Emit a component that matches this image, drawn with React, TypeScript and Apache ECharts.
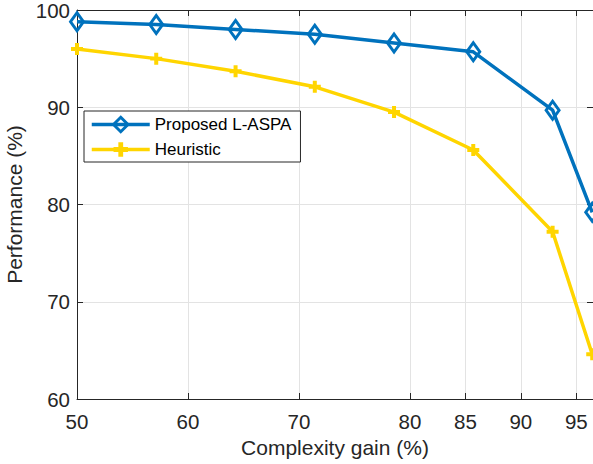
import React, { useEffect, useRef } from "react";
import * as echarts from "echarts";

const complexityGain = [50, 57.14, 64.29, 71.43, 78.57, 85.71, 92.86, 96.43];
const proposedLASPA = [98.8, 98.5, 98.0, 97.5, 96.6, 95.7, 89.7, 79.2];
const heuristic = [96.0, 95.0, 93.7, 92.1, 89.5, 85.6, 77.2, 64.6];
const xTicks = [50, 60, 70, 80, 85, 90, 95];

const BLUE = "#0072BD";
const YELLOW = "#FFD500";
const AXIS = "#262626";
const GRID = "#E3E3E3";
const FONT = "Liberation Sans, Arial, Helvetica, sans-serif";
const PLUS = "path://M4,0H8V4H12V8H8V12H4V8H0V4H4Z";

export default function App() {
  const ref = useRef<HTMLDivElement>(null);
  useEffect(() => {
    if (!ref.current) return;
    const chart = echarts.init(ref.current, null, { renderer: "svg" });
    const axisLine = { show: true, lineStyle: { color: AXIS, width: 1 } };
    chart.setOption({
      animation: false,
      backgroundColor: "#fff",
      textStyle: { fontFamily: FONT },
      grid: { left: 77, top: 10, right: 0, bottom: 65, containLabel: false, outerBoundsMode: "none" },
      legend: {
        orient: "vertical",
        left: 84,
        top: 111,
        padding: [4, 9, 3, 6],
        itemGap: 6,
        itemWidth: 58,
        itemHeight: 18,
        backgroundColor: "#fff",
        borderColor: AXIS,
        borderWidth: 1,
        borderRadius: 0,
        lineStyle: { width: 3.5 },
        textStyle: { fontSize: 17, color: "#000", fontFamily: FONT, lineHeight: 19 },
        data: [
          { name: "Proposed L-ASPA", itemStyle: { borderWidth: 3 } },
          { name: "Heuristic", itemStyle: { borderWidth: 0 } },
        ],
      },
      xAxis: [
        {
          type: "value",
          min: 50,
          max: 96.5,
          position: "bottom",
          name: "Complexity gain (%)",
          nameLocation: "middle",
          nameGap: 35,
          nameTextStyle: { fontSize: 21, color: AXIS, fontFamily: FONT },
          axisLine,
          axisTick: { show: true, inside: true, length: 6, customValues: xTicks, lineStyle: { color: AXIS } },
          axisLabel: { customValues: xTicks, fontSize: 20.5, color: AXIS, margin: 12, fontFamily: FONT },
          splitLine: { show: true, lineStyle: { color: GRID, width: 1 } },
        },
        {
          type: "value",
          min: 50,
          max: 96.5,
          position: "top",
          axisLine,
          axisTick: { show: true, inside: true, length: 6, customValues: xTicks, lineStyle: { color: AXIS } },
          axisLabel: { show: false },
          splitLine: { show: false },
        },
      ],
      yAxis: [
        {
          type: "value",
          min: 60,
          max: 100,
          interval: 10,
          position: "left",
          name: "Performance (%)",
          nameLocation: "middle",
          nameGap: 45,
          nameTextStyle: { fontSize: 21, color: AXIS, fontFamily: FONT },
          axisLine,
          axisTick: { show: true, inside: true, length: 6, lineStyle: { color: AXIS } },
          axisLabel: { fontSize: 20.5, color: AXIS, margin: 7, fontFamily: FONT },
          splitLine: { show: true, lineStyle: { color: GRID, width: 1 } },
        },
        {
          type: "value",
          min: 60,
          max: 100,
          interval: 10,
          position: "right",
          axisLine,
          axisTick: { show: true, inside: true, length: 6, lineStyle: { color: AXIS } },
          axisLabel: { show: false },
          splitLine: { show: false },
        },
      ],
      series: [
        {
          name: "Proposed L-ASPA",
          type: "line",
          data: complexityGain.map((x, i) => [x, proposedLASPA[i]]),
          symbol: "diamond",
          symbolSize: [13, 18],
          showAllSymbol: true,
          lineStyle: { color: BLUE, width: 3.5 },
          itemStyle: { color: "rgba(255,255,255,0)", borderColor: BLUE, borderWidth: 3 },
          z: 3,
        },
        {
          name: "Heuristic",
          type: "line",
          data: complexityGain.map((x, i) => [x, heuristic[i]]),
          symbol: PLUS,
          symbolSize: 12,
          showAllSymbol: true,
          lineStyle: { color: YELLOW, width: 3.5 },
          itemStyle: { color: YELLOW, borderWidth: 0 },
          z: 2,
        },
      ],
    });
    return () => chart.dispose();
  }, []);
  return (
    <div
      ref={ref}
      style={{ position: "absolute", left: 0, top: 0, width: 593, height: 464 }}
    />
  );
}
